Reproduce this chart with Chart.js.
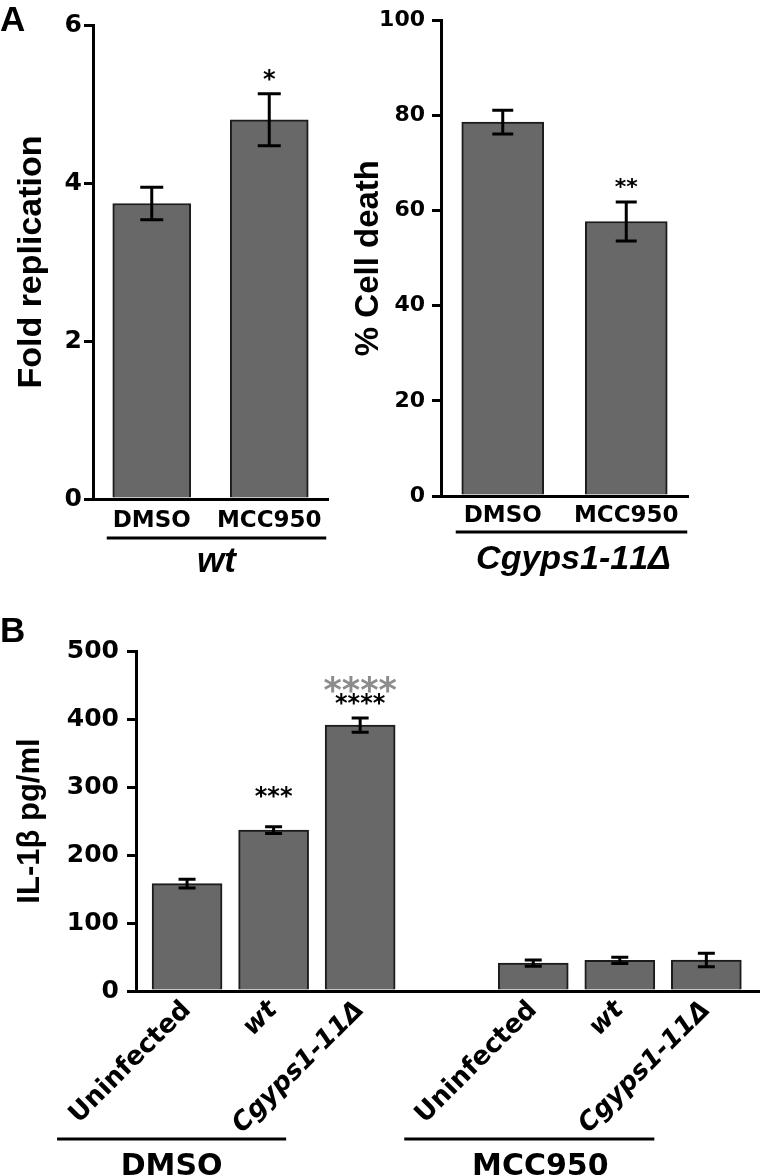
<!DOCTYPE html>
<html>
<head>
<meta charset="utf-8">
<script src="https://cdn.jsdelivr.net/npm/chart.js@4.4.1/dist/chart.umd.min.js"></script>
<style>
  body { margin: 0; background: #fff; }
  #wrap { position: relative; width: 760px; height: 1176px; overflow: hidden; background: #fff; }
  .box { position: absolute; }
</style>
</head>
<body>
<div id="wrap">
  <div class="box" style="left:0;top:0;width:345px;height:600px"><canvas id="chartA1"></canvas></div>
  <div class="box" style="left:345px;top:0;width:415px;height:600px"><canvas id="chartA2"></canvas></div>
  <div class="box" style="left:0;top:590px;width:760px;height:586px"><canvas id="chartB"></canvas></div>
</div>
<script>
// panel A, left: fold replication of wt
const treatCats = ['DMSO', 'MCC950'];
const foldRep = [3.74, 4.80];
const foldRepErr = [0.205, 0.33];
const foldRepSig = ['', '*'];
const foldRepSigAt = [null, 5.37];

// panel A, right: cell death for Cgyps1-11Δ
const cellDeath = [78.6, 57.7];
const cellDeathErr = [2.5, 4.1];
const cellDeathSig = ['', '**'];
const cellDeathSigAt = [null, 65.9];

// panel B: IL-1β, DMSO group then MCC950 group
const il1bCats = ['Uninfected', 'wt', 'Cgyps1-11Δ', 'Uninfected', 'wt', 'Cgyps1-11Δ'];
const il1bPos = [0, 1, 2, 4, 5, 6];
const il1b = [158, 236.5, 391, 41, 45, 45.5];
const il1bErr = [6.5, 5, 10.5, 4.5, 4.7, 10];
const il1bSig = ['', '***', '****', '', '', ''];
const il1bSigAt = [null, 293, 431, null, null, null];
const il1bSig2 = ['', '', '****', '', '', ''];
const il1bSig2At = [null, null, 451.6, null, null, null];

Chart.defaults.font.family = '"DejaVu Sans"';
Chart.defaults.color = '#000';

const BAR_FILL = '#686868';
const BAR_EDGE = '#1c1c1c';
const titleFont = size => ({ family: '"Liberation Sans"', weight: 'bold', size: size, lineHeight: 1.2 });
const tickFont = size => ({ family: '"DejaVu Sans"', weight: 'bold', size: size });

// error bars, significance stars, group brackets and panel letter
const extras = {
  id: 'extras',
  afterDatasetsDraw(chart, args, o) {
    const { ctx, chartArea } = chart;
    const y = chart.scales.y;
    const bars = chart.getDatasetMeta(0).data;
    const vals = chart.data.datasets[0].data.map(d => (d !== null && typeof d === 'object') ? d.y : d);
    ctx.save();
    ctx.fontKerning = 'none';
    ctx.strokeStyle = '#000';
    ctx.lineWidth = 3;
    o.err.forEach((e, i) => {
      const cx = bars[i].x;
      const top = y.getPixelForValue(vals[i] + e);
      const bot = y.getPixelForValue(vals[i] - e);
      ctx.beginPath();
      ctx.moveTo(cx, top); ctx.lineTo(cx, bot);
      ctx.moveTo(cx - o.capW / 2, top); ctx.lineTo(cx + o.capW / 2, top);
      ctx.moveTo(cx - o.capW / 2, bot); ctx.lineTo(cx + o.capW / 2, bot);
      ctx.stroke();
    });

    ctx.textAlign = 'center';
    o.sig.forEach(s => {
      ctx.font = `${s.weight} ${s.size}px "DejaVu Sans"`;
      ctx.fillStyle = s.color;
      s.text.forEach((t, i) => {
        if (!t) return;
        ctx.fillText(t, bars[i].x, y.getPixelForValue(s.at[i]) + 0.53 * s.size);
      });
    });

    ctx.fillStyle = '#000';
    o.groups.forEach(g => {
      const x1 = bars[g.a].x + g.l, x2 = bars[g.b].x + g.r;
      const ly = chartArea.bottom + g.line;
      ctx.beginPath(); ctx.moveTo(x1, ly); ctx.lineTo(x2, ly); ctx.stroke();
      ctx.font = g.font;
      ctx.textAlign = 'center';
      ctx.fillText(g.text, (x1 + x2) / 2 + (g.dx || 0), chartArea.bottom + g.base);
    });

    if (o.panel) {
      ctx.font = 'bold 35px "Liberation Sans"';
      ctx.textAlign = 'left';
      ctx.fillText(o.panel.text, o.panel.x, o.panel.y);
    }
    ctx.restore();
  }
};

const yAxis = (max, step, size, width, title, tsize, tpad, pad) => ({
  min: 0, max: max,
  ticks: { stepSize: step, padding: pad, color: '#000', font: tickFont(size) },
  grid: { drawOnChartArea: false, tickLength: 9, lineWidth: 3, color: '#000' },
  border: { width: 3, color: '#000' },
  title: { display: true, text: title, color: '#000', font: titleFont(tsize), padding: { top: tpad, bottom: 0 } },
  afterFit: s => { s.width = width; }
});

const barSet = (data, thick) => ({
  data: data,
  backgroundColor: BAR_FILL,
  borderColor: BAR_EDGE,
  borderWidth: 2,
  barThickness: thick
});

const baseOpts = {
  responsive: true,
  maintainAspectRatio: false,
  devicePixelRatio: 1,
  animation: false,
  events: []
};

new Chart(document.getElementById('chartA1'), {
  type: 'bar',
  data: { labels: treatCats, datasets: [barSet(foldRep, 78)] },
  options: {
    ...baseOpts,
    layout: { padding: { top: 25, right: 17, left: 0, bottom: 0 } },
    scales: {
      x: {
        z: 1,
        ticks: { padding: 8, color: '#000', font: tickFont(23) },
        grid: { display: false, drawTicks: false },
        border: { width: 3, color: '#000' },
        afterFit: s => { s.height = 101; }
      },
      y: yAxis(6, 2, 25, 93, 'Fold replication', 34, 11, 2)
    },
    plugins: {
      legend: { display: false },
      tooltip: { enabled: false },
      extras: {
        err: foldRepErr, capW: 23,
        sig: [{ text: foldRepSig, at: foldRepSigAt, size: 24, weight: 'bold', color: '#000' }],
        groups: [{ a: 0, b: 1, l: -45, r: 57, line: 39, base: 73,
          text: 'wt', font: 'italic bold 35px "Liberation Sans"' }],
        panel: { text: 'A', x: 0, y: 31 }
      }
    }
  },
  plugins: [extras]
});

new Chart(document.getElementById('chartA2'), {
  type: 'bar',
  data: { labels: treatCats, datasets: [barSet(cellDeath, 82)] },
  options: {
    ...baseOpts,
    layout: { padding: { top: 20, right: 72, left: 0, bottom: 0 } },
    scales: {
      x: {
        z: 1,
        ticks: { padding: 6, color: '#000', font: tickFont(23) },
        grid: { display: false, drawTicks: false },
        border: { width: 3, color: '#000' },
        afterFit: s => { s.height = 104; }
      },
      y: yAxis(100, 20, 22, 96, '% Cell death', 33, 4, 7)
    },
    plugins: {
      legend: { display: false },
      tooltip: { enabled: false },
      extras: {
        err: cellDeathErr, capW: 21,
        sig: [{ text: cellDeathSig, at: cellDeathSigAt, size: 22, weight: 'bold', color: '#000' }],
        groups: [{ a: 0, b: 1, l: -47, r: 61, line: 36, base: 73, dx: 2,
          text: 'Cgyps1-11Δ', font: 'italic bold 34px "Liberation Sans"' }]
      }
    }
  },
  plugins: [extras]
});

new Chart(document.getElementById('chartB'), {
  type: 'bar',
  data: { datasets: [barSet(il1bPos.map((p, i) => ({ x: p, y: il1b[i] })), 70)] },
  options: {
    ...baseOpts,
    layout: { padding: { top: 61, right: 0, left: 0, bottom: 0 } },
    scales: {
      x: {
        type: 'linear',
        z: 1,
        min: -0.59, max: 6.62,
        offset: false,
        afterBuildTicks: s => { s.ticks = il1bPos.map(v => ({ value: v })); },
        ticks: {
          autoSkip: false, minRotation: 45, maxRotation: 45, padding: 4, color: '#000',
          callback: (v, i) => il1bCats[i],
          font: c => ({ family: '"DejaVu Sans"', weight: 'bold', size: 26, style: c.index % 3 === 0 ? 'normal' : 'italic' })
        },
        grid: { display: false, drawTicks: false, offset: false },
        border: { width: 3, color: '#000' },
        afterFit: s => { s.height = 185; }
      },
      y: yAxis(500, 100, 25, 136, 'IL-1β pg/ml', 31, 12, 8)
    },
    plugins: {
      legend: { display: false },
      tooltip: { enabled: false },
      extras: {
        err: il1bErr, capW: 17,
        sig: [
          { text: il1bSig, at: il1bSigAt, size: 24, weight: 'bold', color: '#000' },
          { text: il1bSig2, at: il1bSig2At, size: 35, weight: 'bold', color: '#8c8c8c' }
        ],
        groups: [
          { a: 0, b: 2, l: -130, r: -74, line: 148, base: 184,
            text: 'DMSO', font: 'bold 30px "DejaVu Sans"' },
          { a: 3, b: 5, l: -129, r: -52, line: 148, base: 184, dx: 11,
            text: 'MCC950', font: 'bold 30px "DejaVu Sans"' }
        ],
        panel: { text: 'B', x: 0, y: 52 }
      }
    }
  },
  plugins: [extras]
});
</script>
</body>
</html>
